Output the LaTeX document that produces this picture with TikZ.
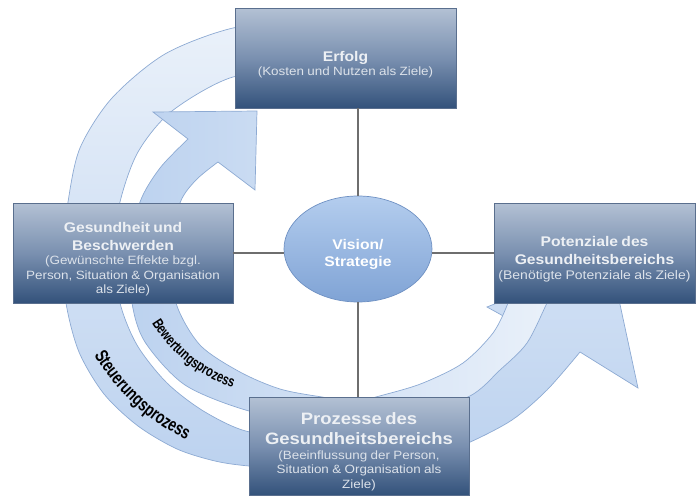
\documentclass[tikz,border=0pt]{standalone}
\usepackage{fontspec}
\setmainfont{Liberation Sans}[FakeStretch=1.12]
\newfontfamily\bogenfont{Liberation Sans}[FakeStretch=0.74]
\usetikzlibrary{shapes.geometric,decorations.text}

\definecolor{boxtop}{HTML}{B3C1D4}
\definecolor{boxmid}{HTML}{7A90B0}
\definecolor{boxbottom}{HTML}{33527B}
\definecolor{boxline}{HTML}{5A6F8E}
\definecolor{titelgrau}{HTML}{EDF0F4}
\definecolor{untergrau}{HTML}{DCE2EA}
\definecolor{visiontop}{HTML}{B4CDEE}
\definecolor{visionbottom}{HTML}{7FA3D5}
\definecolor{visionline}{HTML}{6F91C3}
\definecolor{bandpale}{HTML}{EAF1FA}
\definecolor{banddeep}{HTML}{BCD2EF}
\definecolor{bandline}{HTML}{8DAAD3}
\definecolor{linie}{HTML}{6E6E6E}

% title and subtitle lines inside the boxes
\newcommand{\ztitel}[2][14]{{\bfseries\fontsize{#1}{#1}\selectfont\baselineskip=1.25\baselineskip\noindent\color{titelgrau}\rule{0pt}{23pt}#2\par}}
\newcommand{\zunter}[2][12]{{\fontsize{#1}{#1}\selectfont\baselineskip=1.2\baselineskip\noindent\color{untergrau}#2\par}}

\begin{document}
\begin{tikzpicture}[x=1pt, y=-1pt,
  zielbox/.style={rectangle, draw=boxline, line width=0.7pt, top color=boxtop, bottom color=boxbottom, middle color=boxmid, minimum height=100pt, align=center, inner sep=2pt},
  band/.style={draw=bandline, line width=0.7pt},
  verbindung/.style={draw=linie, line width=1.4pt},
  bogentext/.style={decorate, decoration={text along path, text align=center, text={#1}}}]
\useasboundingbox (0,0) rectangle (697,496);

% Steuerungsprozess (outer band)
\path[band, top color=bandpale, bottom color=banddeep]
  plot[smooth] coordinates {(300,23) (233,28) (165,54) (112,98) (80,148) (68,202) (63,252) (66,303) (79,352) (104,394) (138,426) (177,449) (215,461) (249,466) (310,470) (380,466) (430,456) (468,443) (512,420) (547,390) (580,352)}
  -- (638,388) -- (610,258) -- (487,307) -- (525,328)
  -- plot[smooth] coordinates {(525,328) (500,352) (470,378) (440,398) (380,420) (310,432) (250,432) (205,412) (167,383) (137,345) (120,303) (114,252) (120,202) (138,152) (172,111) (233,77) (300,75)}
  -- cycle;

% Bewertungsprozess (inner band)
\path[band, left color=banddeep, right color=bandpale]
  plot[smooth] coordinates {(556,285) (547,303) (527,343) (500,370) (468,397) (400,417) (320,423) (249,411) (185,385) (145,342) (132,303) (130,252) (140,202) (160,168) (188,139)}
  -- (153,112) -- (257,111) -- (255,190) -- (218,162)
  -- plot[smooth] coordinates {(218,162) (196,180) (180,203) (171,250) (176,303) (200,345) (240,372) (280,389) (322,397) (355,401) (387,394) (423,383) (463,363) (493,333) (508,303) (512,285)}
  -- cycle;

\path[bogentext={|\bogenfont\bfseries\fontsize{18.5}{18.5}\selectfont|Steuerungsprozess}]
  (280,245) ++(155:216) arc[start angle=155, end angle=110, radius=216];
\path[bogentext={|\bogenfont\bfseries\fontsize{15}{15}\selectfont|Bewertungsprozess}]
  (280,245) ++(152:150) arc[start angle=152, end angle=105, radius=150];

% boxes
\node[zielbox, minimum width=221pt, text width=215pt] (erfolg) at (345.5,58)
  {\ztitel{Erfolg}\zunter{(Kosten und Nutzen als Ziele)}};
\node[zielbox, minimum width=220pt, text width=214pt] (gesund) at (123,253)
  {\ztitel{Gesundheit und\\Beschwerden}\zunter{(Gewünschte Effekte bzgl.\\Person, Situation \& Organisation\\als Ziele)}};
\node[zielbox, minimum width=201pt, text width=197pt] (potenz) at (594.5,253)
  {\ztitel{Potenziale des\\Gesundheitsbereichs}\zunter[12.5]{(Benötigte Potenziale als Ziele)}};
\node[zielbox, minimum width=220pt, minimum height=98pt, text width=214pt] (prozess) at (359,446)
  {\ztitel[16.5]{Prozesse des\\Gesundheitsbereichs}\zunter{(Beeinflussung der Person,\\Situation \& Organisation als\\Ziele)}};
\node[ellipse, draw=visionline, line width=0.7pt, top color=visiontop, bottom color=visionbottom,
  minimum width=148pt, minimum height=106pt, align=center, text=white,
  font=\bfseries\fontsize{14}{17}\selectfont] (vision) at (358,249) {\rule{0pt}{20pt}Vision/\\Strategie};

\draw[verbindung] (erfolg.south -| vision.north) -- (vision.north);
\draw[verbindung] (vision.south) -- (vision.south |- prozess.north);
\draw[verbindung] (gesund.east) -- (gesund.east -| vision.west);
\draw[verbindung] (vision.east |- potenz.west) -- (potenz.west);
\end{tikzpicture}
\end{document}
